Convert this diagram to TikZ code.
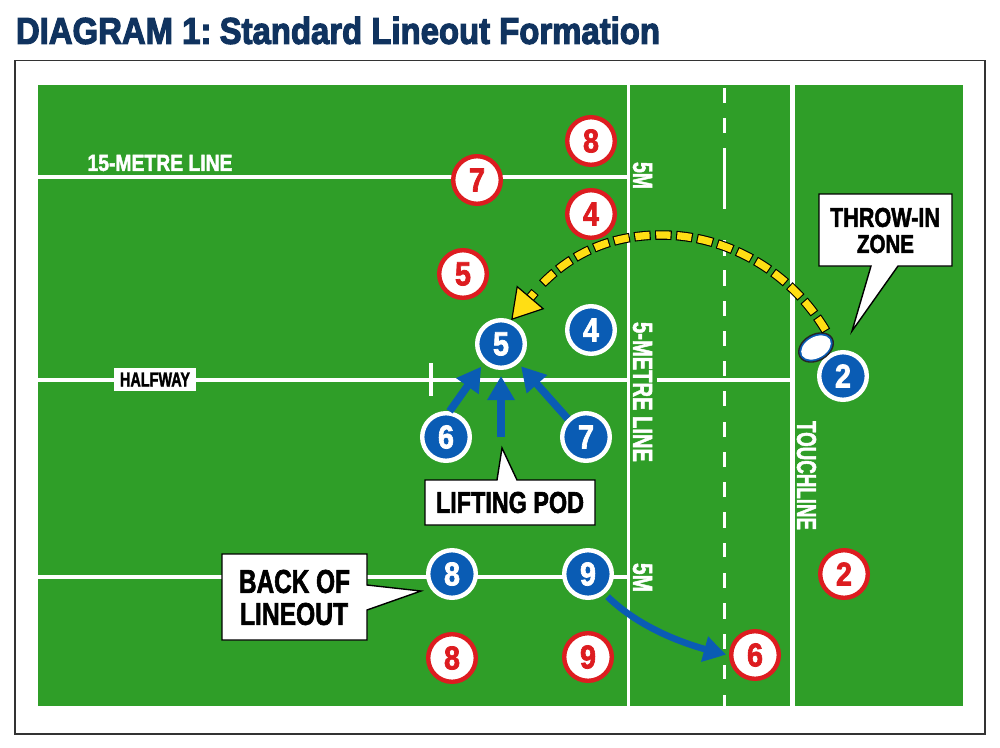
\documentclass[tikz,border=0pt]{standalone}
\usepackage{fontspec}
\usepackage{graphicx}
\setmainfont[BoldFeatures={FakeBold=2.2}]{Liberation Sans}
\newfontfamily\titlefont[BoldFeatures={FakeBold=3.2}]{Liberation Sans}
\usetikzlibrary{arrows.meta,shapes.geometric,bending}
\definecolor{turf}{RGB}{47,158,40}
\definecolor{navy}{RGB}{16,51,95}
\definecolor{kitblue}{RGB}{10,92,180}
\definecolor{kitred}{RGB}{221,28,32}
\definecolor{ballyellow}{RGB}{255,222,20}
\newcommand{\fit}[3]{\resizebox{#1pt}{#2pt}{\bfseries #3}}
\tikzset{
  x=1pt,y=-1pt,
  lbl/.style={inner sep=0pt,outer sep=0pt},
  pitchline/.style={white,line width=3.6pt},
  redtoken/.style={circle,draw=kitred,line width=4.4pt,fill=white,text=kitred,minimum size=47.6pt,inner sep=0pt},
  bluetoken/.style={circle,draw=white,line width=4.4pt,fill=kitblue,text=white,minimum size=47.6pt,inner sep=0pt},
  bluemove/.style={kitblue,line width=7.6pt,-{Triangle[width=26pt,length=24pt]}},
  callout/.style={draw=black,line width=1.4pt,fill=white,line join=miter},
  fieldlbl/.style={lbl,text=white},
  blacklbl/.style={lbl,text=black}
}
\begin{document}
\begin{tikzpicture}
\useasboundingbox (0,0) rectangle (1000,747);
\fill[white] (0,0) rectangle (1000,747);
\node[lbl,text=navy,anchor=center] (title) at (338,30.5) {\resizebox{644pt}{27pt}{\titlefont\bfseries DIAGRAM 1:\hspace{-0.12em} Standard Lineout Formation}};
\draw[black!80,line width=1.4pt] (15,60.5) rectangle (985,734);
\fill[turf] (37.5,85) rectangle (962.5,705.5);

% pitch lines
\coordinate (lineA1) at (37.5,177); \coordinate (lineA2) at (628,177);
\coordinate (lineB1) at (37.5,380); \coordinate (lineB2) at (628,380);
\coordinate (lineB3) at (657,380); \coordinate (lineB4) at (792,380);
\coordinate (lineC1) at (37.5,577); \coordinate (lineC2) at (628,577);
\draw[pitchline] (lineA1) -- (lineA2);
\draw[pitchline] (lineB1) -- (lineB2);
\draw[pitchline] (lineB3) -- (lineB4);
\draw[pitchline] (lineC1) -- (lineC2);
\draw[white,line width=3pt] (628,85) -- (628,705.5);
\draw[white,line width=5pt] (792,85) -- (792,705.5);
\draw[white,line width=3.3pt] (431,363) -- (431,396);
\foreach \a/\b in {88/103,118/133,148/209,240/256,270/286,301/316,331/346,361/376,391/406,422/437,452/467,482/497,512/528,543/557,573/588,603/619,634/649,665/679,695/705.5}
  \draw[white,line width=3pt] (724,\a) -- (724,\b);

% field labels
\node[fieldlbl] (l15) at (160,163) {\fit{145}{16}{15-METRE LINE}};
\node[fieldlbl,rotate=-90] (l5a) at (642.5,175.5) {\fit{27}{19}{5M}};
\node[fieldlbl,rotate=-90] (l5m) at (642.5,392) {\fit{140}{19}{5-METRE LINE}};
\node[fieldlbl,rotate=-90] (l5b) at (642.5,577.5) {\fit{29}{19}{5M}};
\node[fieldlbl,rotate=-90] (ltouch) at (806.5,475.5) {\fit{109}{19}{TOUCHLINE}};
\node[fill=white,inner sep=0pt,minimum width=82pt,minimum height=23pt] (lhalf) at (155,379.5) {\fit{70}{14}{HALFWAY}};

% tokens
\foreach \n/\x/\y/\d in {r8a/591/141/8,r7/477/180/7,r4/591/214/4,r5/463/274/5,r8b/452/658/8,r9/588/657/9,r6/755/655/6,r2/844/574/2}
  \node[redtoken] (\n) at (\x,\y) {\fit{16}{23}{\d}};
\foreach \n/\x/\y/\d in {b5/501/344/5,b4/591/330/4,b6/446/437/6,b7/586/437/7,b8/452/574/8,b9/588/574/9,b2/843/376/2}
  \node[bluetoken] (\n) at (\x,\y) {\fit{16}{23}{\d}};

% lifting arrows
\coordinate (podbase) at (501,437);
\draw[bluemove,shorten >=4pt] (b6.82) -- (b5.228);
\draw[bluemove,shorten >=6pt] (podbase) -- (b5.south);
\draw[bluemove,shorten >=4pt] (b7.135) -- (b5.-48);
\draw[kitblue,line width=6.6pt,-{Triangle[width=25pt,length=22pt,bend]},shorten >=3pt,shorten <=4pt] (b9.-50) .. controls (640,628) and (685,646) .. (r6.west);

% ball
\node[ellipse,draw=black!85,fill=kitblue,line width=1.4pt,rotate=30,minimum width=37pt,minimum height=26pt,inner sep=0pt] (ball) at (816,347.5) {};
\node[ellipse,fill=white,rotate=30,minimum width=32pt,minimum height=21pt,inner sep=0pt] (ballcore) at (816,347.5) {};

% throw
\coordinate (peak) at (662,235);
\coordinate (neck) at (535,292);
\coordinate (neckb) at (541,285);
\coordinate (throwstart) at (826,331);
\draw[black,line width=9.5pt,dash pattern=on 16.5pt off 4.5pt] (throwstart) .. controls (790,270) and (725,235) .. (peak) .. controls (615,235) and (575,250) .. (neckb);
\draw[ballyellow,line width=7.3pt,dash pattern=on 14.3pt off 6.7pt,dash phase=19.9pt] (throwstart) .. controls (790,270) and (725,235) .. (peak) .. controls (615,235) and (575,250) .. (neckb);
\draw[black,line width=9.5pt,shorten >=20pt] (neck) -- (b5.67);
\draw[ballyellow,line width=7.3pt,shorten <=1pt,-{Triangle[width=36pt,length=30pt,fill=ballyellow,color=black,line width=1.2pt]}] (neck) -- (b5.67);

% callouts
\draw[callout] (819,194) -- (952,194) -- (952,266) -- (898,266) -- (852,331) -- (871,266) -- (819,266) -- cycle;
\node[blacklbl] (c1a) at (885,217.5) {\fit{110}{19}{THROW-IN}};
\node[blacklbl] (c1b) at (885.5,244) {\fit{57}{18}{ZONE}};
\draw[callout] (425,480) -- (497,480) -- (502,448) -- (517,480) -- (595,480) -- (595,525) -- (425,525) -- cycle;
\node[blacklbl] (c2) at (510,502.5) {\fit{148}{21}{LIFTING POD}};
\draw[callout] (222,554) -- (367,554) -- (367,585) -- (421,591) -- (367,610) -- (367,640) -- (222,640) -- cycle;
\node[blacklbl] (c3a) at (294.5,581.5) {\fit{111}{23}{BACK OF}};
\node[blacklbl] (c3b) at (294,614) {\fit{108}{22}{LINEOUT}};
\end{tikzpicture}
\end{document}
